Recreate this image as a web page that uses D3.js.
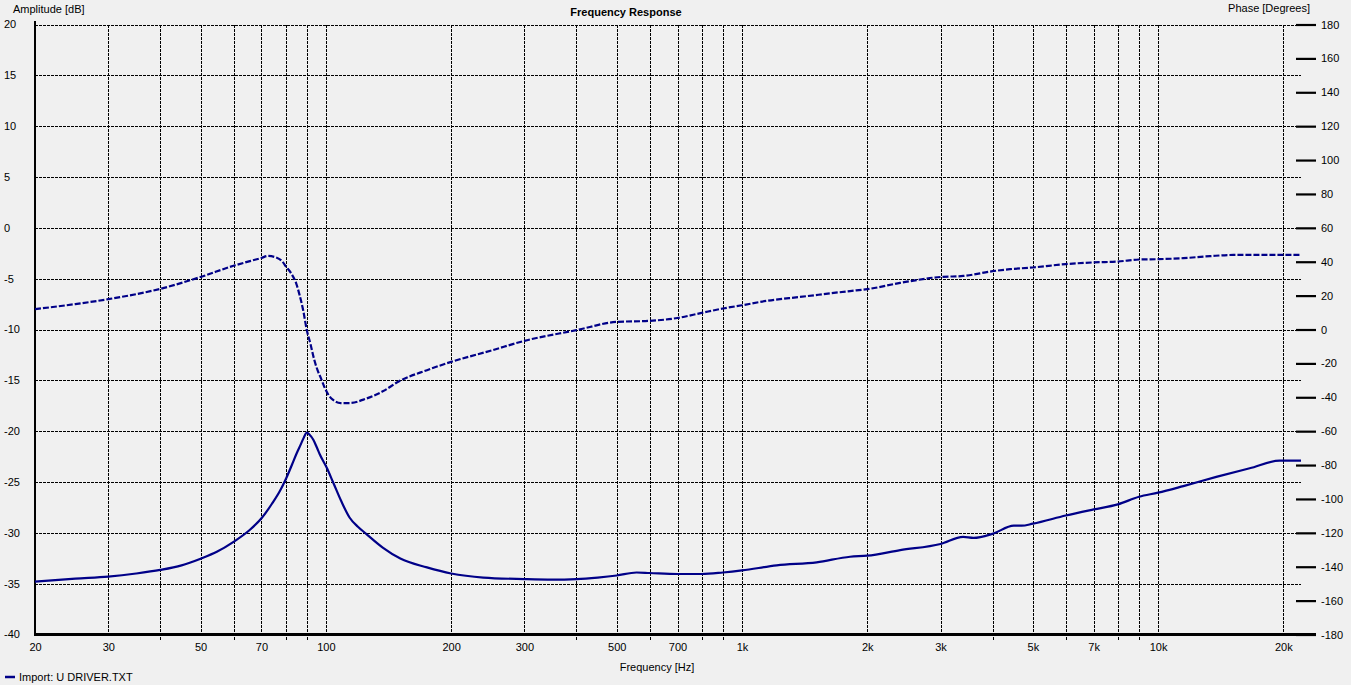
<!DOCTYPE html>
<html>
<head>
<meta charset="utf-8">
<script src="https://cdn.jsdelivr.net/npm/d3@7/dist/d3.min.js"></script>
<style>
  html, body { margin: 0; padding: 0; background: #F0F0F0; }
  svg { display: block; font-family: "Liberation Sans", Arial, sans-serif; }
</style>
</head>
<body>
<svg id="chart" width="1351" height="685"></svg>
<script>
// ---- data ----
const ampFreq = [20, 25, 30, 35, 40, 45, 50, 54.7, 60, 65.7, 70.2, 74.2, 77.6, 80.2, 82.9, 85.2, 87.2, 88.6, 90, 91.4, 93.3, 95.2, 96.8, 100.5, 104.2, 108.8, 114, 119.4, 125, 137, 151, 175, 200, 239, 300, 350, 400, 450, 500, 558, 600, 700, 800, 900, 1000, 1212, 1512, 1819, 2000, 2400, 3000, 3400, 3600, 4000, 4500, 4700, 5000, 6000, 7000, 8000, 9000, 10000, 11500, 13800, 16600, 19600, 22050];
const ampDb = [-34.8, -34.5, -34.3, -34.0, -33.65, -33.2, -32.54, -31.87, -30.89, -29.7, -28.52, -27.14, -25.86, -24.68, -23.3, -22.12, -21.23, -20.59, -20.15, -20.35, -20.84, -21.63, -22.32, -23.6, -25.07, -26.85, -28.49, -29.4, -30.1, -31.45, -32.53, -33.4, -34.0, -34.4, -34.55, -34.6, -34.55, -34.4, -34.2, -33.9, -33.95, -34.05, -34.05, -33.9, -33.7, -33.2, -32.9, -32.35, -32.25, -31.7, -31.1, -30.4, -30.5, -30.1, -29.3, -29.3, -29.1, -28.3, -27.7, -27.2, -26.45, -26.05, -25.4, -24.5, -23.65, -22.9, -22.9];

const phaseFreq = [20, 25, 30, 40, 50, 60, 66, 70, 72.6, 76, 78.5, 80.3, 82.6, 84.9, 86.5, 88.2, 90, 91.8, 93.6, 95.5, 97.4, 99.2, 101, 103.9, 108.6, 114, 125, 137, 150, 175, 200, 250, 300, 400, 500, 600, 700, 800, 900, 1000, 1147, 1379, 1819, 2000, 2398, 3000, 3404, 4000, 4407, 5000, 6000, 7000, 8000, 9000, 10000, 11500, 13330, 15170, 20000, 22050];
const phaseDeg = [12.0, 15.0, 17.9, 24.0, 31.0, 37.6, 40.5, 42.2, 43.4, 42.5, 40.3, 37, 33, 27.1, 20.2, 11.4, -0.4, -8.3, -17.1, -24, -29, -33.9, -37.8, -41.4, -43.4, -43.4, -40.8, -36.5, -30.5, -24, -19.1, -12.4, -6.7, -0.4, 4.5, 5.1, 6.8, 9.8, 12.4, 14.3, 16.9, 19.2, 22.7, 23.8, 27.5, 31, 31.6, 34.4, 35.6, 36.6, 38.6, 39.6, 40.1, 41.3, 41.5, 42.1, 43.3, 44, 44, 44];

const xGridValues = [30, 40, 50, 60, 70, 80, 90, 100, 200, 300, 400, 500, 600, 700, 800, 900, 1000, 2000, 3000, 4000, 5000, 6000, 7000, 8000, 9000, 10000, 20000];
const xTickValues = [20, 30, 50, 70, 100, 200, 300, 500, 700, 1000, 2000, 3000, 5000, 7000, 10000, 20000];
const xTickLabels = ["20", "30", "50", "70", "100", "200", "300", "500", "700", "1k", "2k", "3k", "5k", "7k", "10k", "20k"];
const ampTicks = [20, 15, 10, 5, 0, -5, -10, -15, -20, -25, -30, -35, -40];
const phaseTicks = [180, 160, 140, 120, 100, 80, 60, 40, 20, 0, -20, -40, -60, -80, -100, -120, -140, -160, -180];

const title = "Frequency Response";
const xTitle = "Frequency [Hz]";
const yTitle = "Amplitude [dB]";
const y2Title = "Phase [Degrees]";
const legendLabel = "Import: U DRIVER.TXT";

// ---- layout ----
const L = 35, R = 1301, T = 24.5, B = 634.5;
const curveColor = "#000088";

const svg = d3.select("#chart");
const x = d3.scaleLog().domain([20, 22050]).range([L, R]);
const y = d3.scaleLinear().domain([-40, 20]).range([B, T]);
const yP = d3.scaleLinear().domain([-180, 180]).range([B, T]);

// horizontal grid
svg.append("g").selectAll("line")
  .data(ampTicks.filter(d => d > -40))
  .join("line")
  .attr("x1", L).attr("x2", R)
  .attr("y1", d => Math.round(y(d)) + 0.5).attr("y2", d => Math.round(y(d)) + 0.5)
  .attr("stroke", "#000").attr("stroke-width", 1)
  .attr("stroke-dasharray", "3,1").attr("shape-rendering", "crispEdges");

// vertical grid
svg.append("g").selectAll("line")
  .data(xGridValues)
  .join("line")
  .attr("x1", d => Math.round(x(d)) + 0.5).attr("x2", d => Math.round(x(d)) + 0.5)
  .attr("y1", T)
  .attr("y2", d => xTickValues.includes(d) ? B : B + 6)
  .attr("stroke", "#000").attr("stroke-width", 1)
  .attr("stroke-dasharray", "3,1").attr("shape-rendering", "crispEdges");

// axes lines
svg.append("line").attr("x1", L).attr("x2", L).attr("y1", 21).attr("y2", B + 1)
  .attr("stroke", "#000").attr("stroke-width", 2.5).attr("shape-rendering", "crispEdges");
svg.append("line").attr("x1", L).attr("x2", 1316).attr("y1", B).attr("y2", B)
  .attr("stroke", "#000").attr("stroke-width", 2.5).attr("shape-rendering", "crispEdges");

// left labels
svg.append("g").selectAll("text")
  .data(ampTicks)
  .join("text")
  .attr("x", 4).attr("y", d => y(d)).attr("dy", "0.35em")
  .attr("font-size", 11).attr("fill", "#000")
  .text(d => d);

// right axis (phase)
const rAxis = svg.append("g").attr("transform", "translate(1296,0)")
  .call(d3.axisRight(yP).tickValues(phaseTicks).tickSize(20).tickPadding(5).tickFormat(d => d));
rAxis.select(".domain").remove();
rAxis.selectAll(".tick line").attr("stroke", "#000").attr("stroke-width", 2.2);
rAxis.selectAll(".tick text").attr("font-size", 11).attr("fill", "#000")
  .attr("font-family", "Liberation Sans, Arial, sans-serif");

// bottom axis labels
const bAxis = svg.append("g").attr("transform", `translate(0,${B})`)
  .call(d3.axisBottom(x).tickValues(xTickValues).tickSize(0).tickPadding(9)
    .tickFormat((d, i) => xTickLabels[i]));
bAxis.select(".domain").remove();
bAxis.selectAll(".tick text").attr("font-size", 11).attr("fill", "#000")
  .attr("font-family", "Liberation Sans, Arial, sans-serif");

// titles
svg.append("text").attr("x", 626).attr("y", 16).attr("text-anchor", "middle")
  .attr("font-size", 11).attr("font-weight", "bold").text(title);
svg.append("text").attr("x", 13).attr("y", 13).attr("font-size", 11).text(yTitle);
svg.append("text").attr("x", 1310).attr("y", 12).attr("text-anchor", "end").attr("font-size", 11).text(y2Title);
svg.append("text").attr("x", 657).attr("y", 671).attr("text-anchor", "middle").attr("font-size", 11).text(xTitle);

// curves
const ampData = ampFreq.map((f, i) => [f, ampDb[i]]);
const phData = phaseFreq.map((f, i) => [f, phaseDeg[i]]);

svg.append("path").datum(ampData)
  .attr("fill", "none").attr("stroke", curveColor).attr("stroke-width", 2.2)
  .attr("d", d3.line().x(d => x(d[0])).y(d => y(d[1])).curve(d3.curveMonotoneX));

svg.append("path").datum(phData)
  .attr("fill", "none").attr("stroke", curveColor).attr("stroke-width", 2.2)
  .attr("stroke-dasharray", "6,2")
  .attr("d", d3.line().x(d => x(d[0])).y(d => yP(d[1])).curve(d3.curveMonotoneX));

// legend
svg.append("line").attr("x1", 5).attr("x2", 15).attr("y1", 677).attr("y2", 677)
  .attr("stroke", curveColor).attr("stroke-width", 2.5);
svg.append("text").attr("x", 19).attr("y", 681).attr("font-size", 11).text(legendLabel);
</script>
</body>
</html>
